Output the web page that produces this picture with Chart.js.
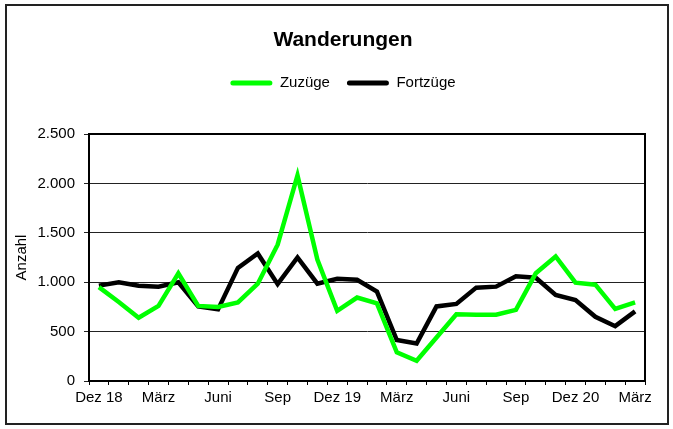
<!DOCTYPE html>
<html>
<head>
<meta charset="utf-8">
<script src="https://cdn.jsdelivr.net/npm/chart.js@4/dist/chart.umd.min.js"></script>
<style>
  html, body { margin: 0; padding: 0; background: #fff; }
  #wrap { width: 673px; height: 429px; }
</style>
</head>
<body>
<div id="wrap"><canvas id="c" width="673" height="429"></canvas></div>
<script>
const categories = ['Dez 18','Jan 19','Feb 19','März 19','Apr 19','Mai 19','Juni 19','Juli 19','Aug 19','Sep 19','Okt 19','Nov 19',
                    'Dez 19','Jan 20','Feb 20','März 20','Apr 20','Mai 20','Juni 20','Juli 20','Aug 20','Sep 20','Okt 20','Nov 20',
                    'Dez 20','Jan 21','Feb 21','März 21'];
const tickLabels = ['Dez 18','März','Juni','Sep','Dez 19','März','Juni','Sep','Dez 20','März'];
const zuzuege = [950, 800, 640, 760, 1090, 760, 750, 795, 985, 1380, 2080, 1230,
                 710, 845, 785, 290, 205, 440, 675, 670, 670, 720, 1090, 1260,
                 995, 975, 730, 795];
const fortzuege = [965, 1000, 965, 955, 1000, 755, 725, 1145, 1290, 980, 1250, 985,
                   1035, 1025, 905, 415, 380, 755, 780, 945, 955, 1060, 1045, 870,
                   820, 650, 555, 705];
const yTicks = [0, 500, 1000, 1500, 2000, 2500];

const FONT = 'Liberation Sans, Arial, sans-serif';

const framePlugin = {
  id: 'frame',
  beforeDraw(chart) {
    const ctx = chart.ctx;
    ctx.save();
    ctx.fillStyle = '#fff';
    ctx.fillRect(0, 0, chart.width, chart.height);
    ctx.strokeStyle = '#222';
    ctx.lineWidth = 2;
    ctx.strokeRect(6, 5, 662, 419);
    ctx.restore();
  },
  afterDatasetsDraw(chart) {
    const a = chart.chartArea;
    const ctx = chart.ctx;
    ctx.save();
    ctx.strokeStyle = '#000';
    ctx.lineWidth = 2;
    ctx.beginPath();
    ctx.moveTo(a.left, a.top);
    ctx.lineTo(a.right, a.top);
    ctx.lineTo(a.right, a.bottom);
    ctx.stroke();
    ctx.restore();
  }
};

new Chart(document.getElementById('c'), {
  type: 'line',
  data: {
    labels: categories,
    datasets: [
      { label: 'Zuzüge', data: zuzuege, borderColor: '#00ff00', backgroundColor: '#00ff00',
        borderWidth: 4.5, pointRadius: 0, tension: 0, fill: false, borderJoinStyle: 'miter' },
      { label: 'Fortzüge', data: fortzuege, borderColor: '#000000', backgroundColor: '#000000',
        borderWidth: 4.5, pointRadius: 0, tension: 0, fill: false, borderJoinStyle: 'miter' }
    ]
  },
  options: {
    responsive: false,
    animation: false,
    events: [],
    layout: { padding: { left: 13, right: 0, top: 0, bottom: 0 } },
    plugins: {
      title: {
        display: true, text: 'Wanderungen', color: '#000',
        font: { family: FONT, size: 21, weight: 'bold' },
        padding: { top: 27.4, bottom: 5.9 }
      },
      subtitle: {
        display: true, text: '', weight: 500, position: 'top',
        font: { family: FONT, size: 10 },
        padding: { top: 21.5, bottom: 0 }
      },
      legend: {
        display: true, position: 'top', align: 'center',
        labels: {
          boxWidth: 42, boxHeight: 5, padding: 17, color: '#000',
          font: { family: FONT, size: 15 },
          generateLabels(chart) {
            return chart.data.datasets.map((ds, i) => ({
              text: ds.label, fillStyle: ds.borderColor, strokeStyle: ds.borderColor,
              lineWidth: 0, borderRadius: 2.5, datasetIndex: i, hidden: false, fontColor: '#000'
            }));
          }
        }
      },
      tooltip: { enabled: false }
    },
    scales: {
      x: {
        type: 'category',
        offset: true,
        afterFit(scale) { scale.height = 48; scale.paddingRight = 28; },
        grid: { display: true, drawOnChartArea: false, drawTicks: true, tickLength: 4, offset: true, color: '#000', lineWidth: 1 },
        border: { display: true, color: '#000', width: 2 },
        ticks: {
          autoSkip: false, maxRotation: 0, minRotation: 0, padding: 4, color: '#000',
          font: { family: FONT, size: 15 },
          callback(v, i) { return i % 3 === 0 ? tickLabels[i / 3] : ''; }
        }
      },
      y: {
        min: 0, max: 2500,
        afterFit(scale) { scale.width = 76; },
        afterBuildTicks(scale) { scale.ticks = yTicks.map(v => ({ value: v })); },
        grid: { display: true, drawOnChartArea: true, drawTicks: true, tickLength: 5, color: '#222', lineWidth: 1 },
        border: { display: true, color: '#000', width: 2 },
        ticks: {
          padding: 9, color: '#000',
          font: { family: FONT, size: 15 },
          callback(v) { return v.toLocaleString('de-DE'); }
        },
        title: {
          display: true, text: 'Anzahl', color: '#000',
          font: { family: FONT, size: 15 },
          padding: { top: 0, bottom: 0 }
        }
      }
    }
  },
  plugins: [framePlugin]
});
</script>
</body>
</html>
